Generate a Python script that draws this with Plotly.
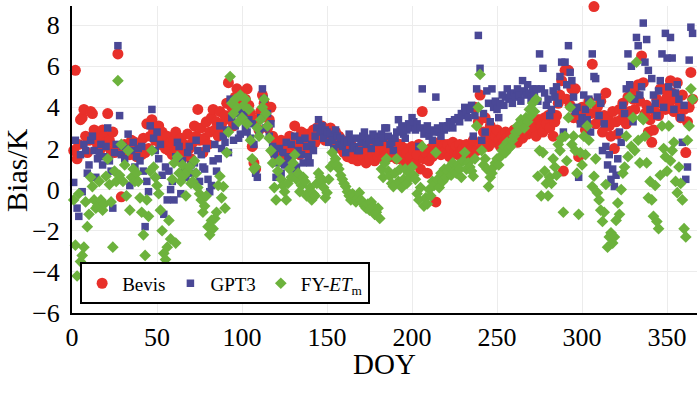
import plotly.graph_objects as go

days = list(range(1, 366))

bevis = [
    1.9, 5.8, 1.5, 2.2, 3.4, 3.5, 3.9, 2.6, 1.8, 2.4,
    3.8, 3.7, 2.9, 2.5, 2.2, 2.7, 2.0, 2.9, 2.6, 2.3,
    3.7, 2.4, 1.9, 2.8, 1.8, 2.1, 6.6, 2.0, -0.35, 1.8,
    2.2, 1.9, 2.1, 1.7, 2.4, 1.8, 2.3, 1.6, 1.9, 2.1,
    1.7, 2.5, 1.8, 3.2, 2.0, 2.6, 3.4, 2.9, 2.4, 2.7,
    3.1, 2.2, 2.8, 2.4, 2.0, 2.6, 1.9, 2.3, 1.7, 2.4,
    2.8, 2.1, 1.6, 2.5, 1.9, 2.2, 1.7, 2.7, 2.0, 1.5,
    2.3, 3.1, 2.6, 3.9, 2.4, 3.0, 1.8, 2.5, 3.3, 2.2,
    2.8, 3.5, 3.9, 2.9, 3.3, 2.6, 3.8, 3.2, 2.8, 3.6,
    4.2, 5.2, 3.4, 4.0, 3.1, 4.5, 4.9, 3.8, 4.6, 4.2,
    3.6, 4.4, 4.9, 4.1, 3.7, 2.1, 1.3, 1.0, 3.4, 2.9,
    3.8, 4.6, 4.2, 3.6, 3.0, 3.4, 4.0, 2.6, 1.8, 2.3,
    2.1, 1.5, 2.4, 1.8, 1.3, 2.2, 1.6, 2.6, 1.9, 2.3,
    3.1, 2.0, 2.5, 1.7, 2.8, 2.2, 1.9, 2.4, 2.7, 2.1,
    2.6, 2.9, 2.3, 3.0, 2.5, 2.8, 3.1, 2.6, 2.4, 2.9,
    2.7, 3.0, 2.5, 2.3, 2.8, 2.2, 2.6, 2.0, 2.4, 1.8,
    2.1, 1.6, 1.9, 2.2, 1.5, 1.8, 2.0, 1.4, 1.7, 1.9,
    1.6, 2.1, 1.3, 1.8, 1.5, 2.0, 1.7, 1.4, 1.9, 1.6,
    1.8, 2.2, 1.5, 1.9, 1.7, 2.4, 1.6, 2.0, 1.8, 2.3,
    1.5, 1.9, 2.2, 1.7, 1.4, 2.0, 1.8, 1.2, 1.6, 2.1,
    1.9, 1.3, 1.7, 2.2, 1.0, 3.8, 1.5, 1.8, 0.8, 1.4,
    2.0, 1.6, 2.2, -0.6, 1.9, 2.3, 1.7, 2.1, 2.2, 1.9,
    2.2, 1.6, 2.0, 2.3, 1.8, 2.1, 1.7, 2.2, 1.9, 2.0,
    1.6, 2.2, 1.8, 1.5, 2.0, 2.4, 4.0, 1.9, 3.3, 4.6,
    2.2, 2.8, 3.5, 2.5, 2.1, 3.1, 2.7, 2.3, 2.6, 2.9,
    2.4, 2.1, 2.6, 2.3, 2.8, 2.5, 2.2, 2.7, 2.4, 2.9,
    2.6, 2.3, 2.8, 3.0, 2.5, 2.9, 3.1, 2.7, 3.2, 2.9,
    3.3, 3.0, 2.6, 3.4, 3.4, 3.1, 2.8, 3.5, 3.2, 3.6,
    3.0, 3.7, 2.6, 3.3, 3.6, 4.2, 4.6, 5.3, 0.9, 5.8,
    4.4, 5.8, 4.1, 4.9, 3.5, 4.9, 3.8, 1.6, 3.4, 4.0,
    3.6, 2.9, 3.2, 4.3, 3.7, 6.1, 8.9, 3.2, 4.0, 3.5,
    4.3, 2.8, 3.6, 4.7, 3.5, 3.1, 2.6, 3.8, 2.0, 3.3,
    2.7, 3.9, 3.4, 4.2, 3.6, 3.2, 4.5, 3.8, 4.9, 4.4,
    3.9, 4.6, 5.1, 4.3, 6.5, 5.2, 3.7, 4.1, 2.8, 3.4,
    2.3, 2.9, 3.8, 4.4, 3.6, 4.9, 4.2, 4.9, 3.9, 4.5,
    4.1, 5.3, 4.7, 3.8, 4.4, 5.2, 4.0, 3.5, 4.6, 3.9,
    1.8, 3.3, 4.0, 5.7, 4.4,
]

gpt3 = [
    0.35, 2.4, -0.9, -1.3, 1.7, -0.1, 2.2, 1.9, 0.8, 1.2,
    2.4, 2.6, 1.9, 0.6, 1.5, 1.8, 2.2, 1.2, 1.6, 2.1,
    3.0, 1.4, 0.9, -0.9, 1.8, 2.2, 7.0, 3.6, 1.7, 2.1,
    1.5, 2.0, 2.7, 0.2, 1.9, 2.3, 1.1, 1.6, 2.0, 1.4,
    2.1, 0.9, -1.8, 0.4, -0.1, 3.1, 3.9, 2.5, 1.9, 2.8,
    1.5, 2.2, 0.7, -1.2, 1.1, -0.5, 0.9, 0.0, 0.4, -0.5,
    1.6, 2.3, 2.1, -0.2, 1.4, 1.0, 0.6, 1.8, 2.1, 1.2,
    0.8, 1.3, 2.4, 1.9, 0.4, 1.7, 1.1, 1.0, 2.0, 0.5,
    -0.1, 0.2, 1.4, 2.2, 0.9, 1.5, 3.1, 2.0, 2.6, 2.3,
    2.9, 1.8, 4.4, 3.5, 2.4, 3.1, 3.7, 2.5, 2.7, 3.9,
    3.6, 3.0, 2.8, 3.4, 2.5, 3.2, 2.2, 0.8, 0.6, 2.9,
    3.5, 4.9, 4.4, 3.0, 3.7, 2.6, 3.2, 2.1, 1.7, 0.6,
    1.3, 2.0, 0.8, 1.8, 1.2, 2.3, 1.6, 1.5, 2.2, 1.0,
    2.6, 1.1, 1.9, 2.4, 1.7, 1.3, 2.5, 2.1, 1.6, 1.3,
    2.2, 1.9, 2.6, 3.0, 3.4, 2.8, 3.1, 2.5, 2.9, 2.8,
    2.3, 2.7, 2.4, 2.0, 2.9, 2.6, 2.2, 2.5, 2.1, 2.4,
    1.8, 2.3, 2.7, 2.4, 2.0, 2.1, 2.5, 1.9, 1.9, 2.3,
    2.6, 2.8, 2.2, 2.5, 2.4, 2.0, 2.7, 2.6, 2.3, 2.5,
    2.3, 2.7, 2.5, 3.0, 3.0, 2.6, 2.2, 2.3, 1.9, 2.5,
    2.8, 3.4, 2.9, 3.1, 2.7, 2.5, 2.9, 3.2, 3.0, 3.5,
    3.3, 2.9, 3.2, 2.1, 3.0, 4.9, 2.7, 2.8, 3.1, 2.6,
    2.9, 2.4, 2.8, 4.5, 3.0, 2.8, 2.6, 3.1, 2.9, 3.0,
    3.1, 3.3, 3.2, 3.0, 3.4, 3.4, 3.5, 3.3, 3.7, 3.6,
    4.0, 3.8, 3.5, 3.9, 4.1, 2.6, 3.6, 4.9, 7.5, 5.9,
    2.4, 3.7, 2.8, 4.8, 4.2, 3.3, 4.9, 4.0, 4.3, 3.9,
    3.5, 4.2, 4.6, 4.1, 4.5, 4.9, 4.4, 4.6, 4.2, 4.7,
    4.5, 4.9, 4.6, 4.3, 5.3, 4.8, 4.6, 5.1, 4.7, 4.4,
    4.9, 4.6, 4.9, 4.3, 6.6, 4.9, 5.9, 4.7, 4.1, 4.4,
    3.6, 3.9, 4.8, 4.5, 5.0, 4.2, 5.5, 6.2, 2.8, 6.2,
    5.1, 7.0, 5.7, 5.3, 4.5, 3.8, 4.0, 0.6, 3.2, 3.5,
    4.6, 3.9, 3.4, 4.4, 2.8, 6.6, 5.5, 5.4, 4.5, 3.6,
    4.2, 1.9, 3.2, 2.1, 1.2, 1.7, 0.5, 1.0, 0.15, 0.7,
    1.5, 2.8, 2.3, 4.1, 3.7, 4.9, 6.6, 5.1, 6.0, 3.3,
    4.4, 7.4, 7.0, 4.6, 5.0, 8.1, 6.2, 7.3, 5.8, 3.9,
    5.4, 4.6, 4.2, 3.6, 4.8, 5.3, 6.6, 4.0, 7.6, 6.4,
    5.0, 7.4, 6.4, 3.9, 4.7, 5.1, 4.4, 3.5, 2.3, 4.1,
    0.5, 1.1, 6.3, 7.9, 7.6,
]

fy_etm = [
    -0.5, -2.7, -4.2, -0.2, -3.5, -3.2, -2.8, -0.6, -1.8, -1.2,
    0.6, 0.15, -0.5, -0.9, -0.8, 0.4, -0.5, -1.0, -0.7, 0.65,
    1.5, 0.25, -0.6, -2.8, 0.9, 0.4, 5.3, 0.7, 2.2, 0.4,
    1.2, -0.3, 1.9, -1.0, 0.6, 1.0, 0.4, 0.8, 0.4, -0.4,
    -1.1, -2.2, -3.2, -0.5, -1.3, 0.9, 1.9, 1.1, 0.6, 0.2,
    -0.2, -1.0, -2.0, -3.1, -3.4, -2.8, -1.5, -2.4, 0.5, 1.3,
    -2.6, 1.6, 0.8, 0.4, 1.2, 0.7, -0.3, 0.9, 1.1, 0.3,
    0.4, 1.4, 0.8, 0.1, -0.2, -0.5, -1.1, -0.8, -0.3, -1.8,
    -2.2, -1.5, -1.9, -1.4, -1.1, 0.2, 0.65, -0.4, 0.15, -0.9,
    1.8, 2.8, 5.5, 4.2, 3.7, 4.4, 4.0, 3.3, 4.6, 3.5,
    4.1, 4.4, 3.2, 3.9, 2.4, 1.5, 1.0, 1.1, 3.0, 2.6,
    3.4, 4.0, 4.4, 3.7, 3.1, 2.5, 1.9, 1.3, 0.1, -0.5,
    0.9, 1.4, 0.5, 0.2, -0.1, -0.5, 0.3, 1.0, 0.6, 1.3,
    1.7, 0.5, 0.8, -0.1, 0.2, 0.6, 0.4, -0.3, -0.15, 0.1,
    -0.5, -0.2, -0.3, 0.3, 0.8, 0.6, 0.4, 0.1, -0.4, -0.15,
    0.5, 1.1, 1.8, 1.3, 1.5, 1.2, 1.0, 0.7, 0.5, 0.3,
    0.15, -0.1, -0.3, -0.5, -0.2, -0.3, -0.6, -0.4, -0.15, -0.5,
    -0.65, -0.8, -0.9, -0.7, -1.0, -0.6, -0.8, -1.2, -1.1, -0.9,
    -1.4, 1.0, 0.6, 1.3, 1.5, 0.9, 0.65, 0.3, 0.15, 0.8,
    1.5, 0.4, 1.0, 0.1, 0.5, 1.0, 0.3, 0.8, 0.6, 1.1,
    0.7, 0.5, -0.2, -0.5, 0.1, 2.1, -0.8, -0.4, -0.7, 0.0,
    -0.3, 0.4, 0.2, 1.8, 0.5, 0.1, 0.8, 0.4, 1.0, 0.6,
    0.9, 1.1, 0.7, 1.3, 0.9, 0.8, 1.2, 1.0, 0.6, 1.4,
    1.8, 1.0, 1.3, 1.1, 0.9, 0.65, 1.5, 3.1, 4.0, 5.6,
    1.9, 1.2, 1.5, 1.0, 0.15, 0.6, 0.8, 1.1, 1.3, 1.5,
    1.2, 1.6, 1.9, 2.1, 1.8, 2.3, 2.0, 2.1, 2.4, 2.6,
    2.8, 3.1, 2.9, 3.4, 3.2, 3.0, 3.5, 3.3, 3.9, 3.6,
    4.2, 3.8, 4.4, 0.65, 1.9, -0.3, 1.8, 0.9, 0.3, -0.3,
    0.6, 0.3, 1.5, 1.1, 0.7, 2.2, 1.9, 2.5, -1.1, 2.6,
    1.4, 3.5, 4.0, 2.2, 2.6, 1.9, 0.8, -1.2, 1.8, 1.2,
    2.6, 1.7, 3.1, 2.4, 4.2, 0.15, 0.65, 1.5, -0.15, -0.5,
    -1.0, -1.55, -1.1, 0.25, -2.8, -2.3, -2.1, -2.6, -2.3, -1.5,
    -0.65, -1.2, 0.0, 0.8, 1.1, 2.6, 1.6, 4.5, 2.1, 3.5,
    1.9, 6.2, 2.4, 1.3, 3.5, 3.4, 2.6, 1.3, -0.4, 0.4,
    -0.5, -1.3, 0.2, -1.55, -1.9, 0.7, 3.1, 2.0, 1.6, 0.9,
    3.1, 1.4, 1.9, 2.3, 0.4, -0.15, 1.1, 0.3, -0.5, -1.9,
    -2.3, 2.4, 3.1, 4.9, 4.4,
]

x_ticks = [0, 50, 100, 150, 200, 250, 300, 350]
y_ticks = [-6, -4, -2, 0, 2, 4, 6, 8]

FONT = "Liberation Serif, Times New Roman, serif"

fig = go.Figure()
fig.add_trace(go.Scatter(
    x=days, y=bevis, mode="markers", name="Bevis", cliponaxis=False,
    marker=dict(symbol="circle", size=11, color="#e8302a"),
))
fig.add_trace(go.Scatter(
    x=days, y=gpt3, mode="markers", name="GPT3", cliponaxis=False,
    marker=dict(symbol="square", size=7.5, color="#4a4896"),
))
fig.add_trace(go.Scatter(
    x=days, y=fy_etm, mode="markers", name="FY-<i>ET</i><sub>m</sub>", cliponaxis=False,
    marker=dict(symbol="diamond", size=9, color="#6cb23c"),
))

fig.update_layout(
    width=700, height=395,
    margin=dict(l=72, r=3, t=6, b=82),
    paper_bgcolor="white", plot_bgcolor="white",
    font=dict(family=FONT, color="black"),
    showlegend=True,
    legend=dict(
        orientation="h", x=0.013, y=0.028, xanchor="left", yanchor="bottom",
        bgcolor="white", bordercolor="black", borderwidth=2,
        font=dict(family=FONT, size=19, color="black"),
        itemwidth=30, tracegroupgap=0,
    ),
    annotations=[
        dict(text="DOY", xref="paper", yref="paper", x=0.5, y=-0.165,
             xanchor="center", yanchor="middle", showarrow=False,
             font=dict(family=FONT, size=29, color="black")),
        dict(text="Bias/K", xref="paper", yref="paper", x=-0.088, y=0.466,
             xanchor="center", yanchor="middle", textangle=-90, showarrow=False,
             font=dict(family=FONT, size=30, color="black")),
    ],
)
fig.update_xaxes(
    range=[0, 367.6], tickvals=x_ticks, ticktext=[str(v) for v in x_ticks],
    automargin=False,
    showgrid=True, gridcolor="#ececec", gridwidth=1, zeroline=False,
    showline=True, linecolor="black", linewidth=2,
    ticks="", ticklabelstandoff=0,
    tickfont=dict(family=FONT, size=26, color="black"),
)
fig.update_yaxes(
    range=[-6, 8.93], tickvals=y_ticks,
    automargin=False,
    showgrid=True, gridcolor="#ececec", gridwidth=1, zeroline=False,
    showline=True, linecolor="black", linewidth=2,
    ticks="", ticklabelstandoff=5,
    tickfont=dict(family=FONT, size=26, color="black"),
)

fig.write_html(
    "out.html",
    config={"displayModeBar": False},
    post_script="document.body.style.margin='0px';",
)
